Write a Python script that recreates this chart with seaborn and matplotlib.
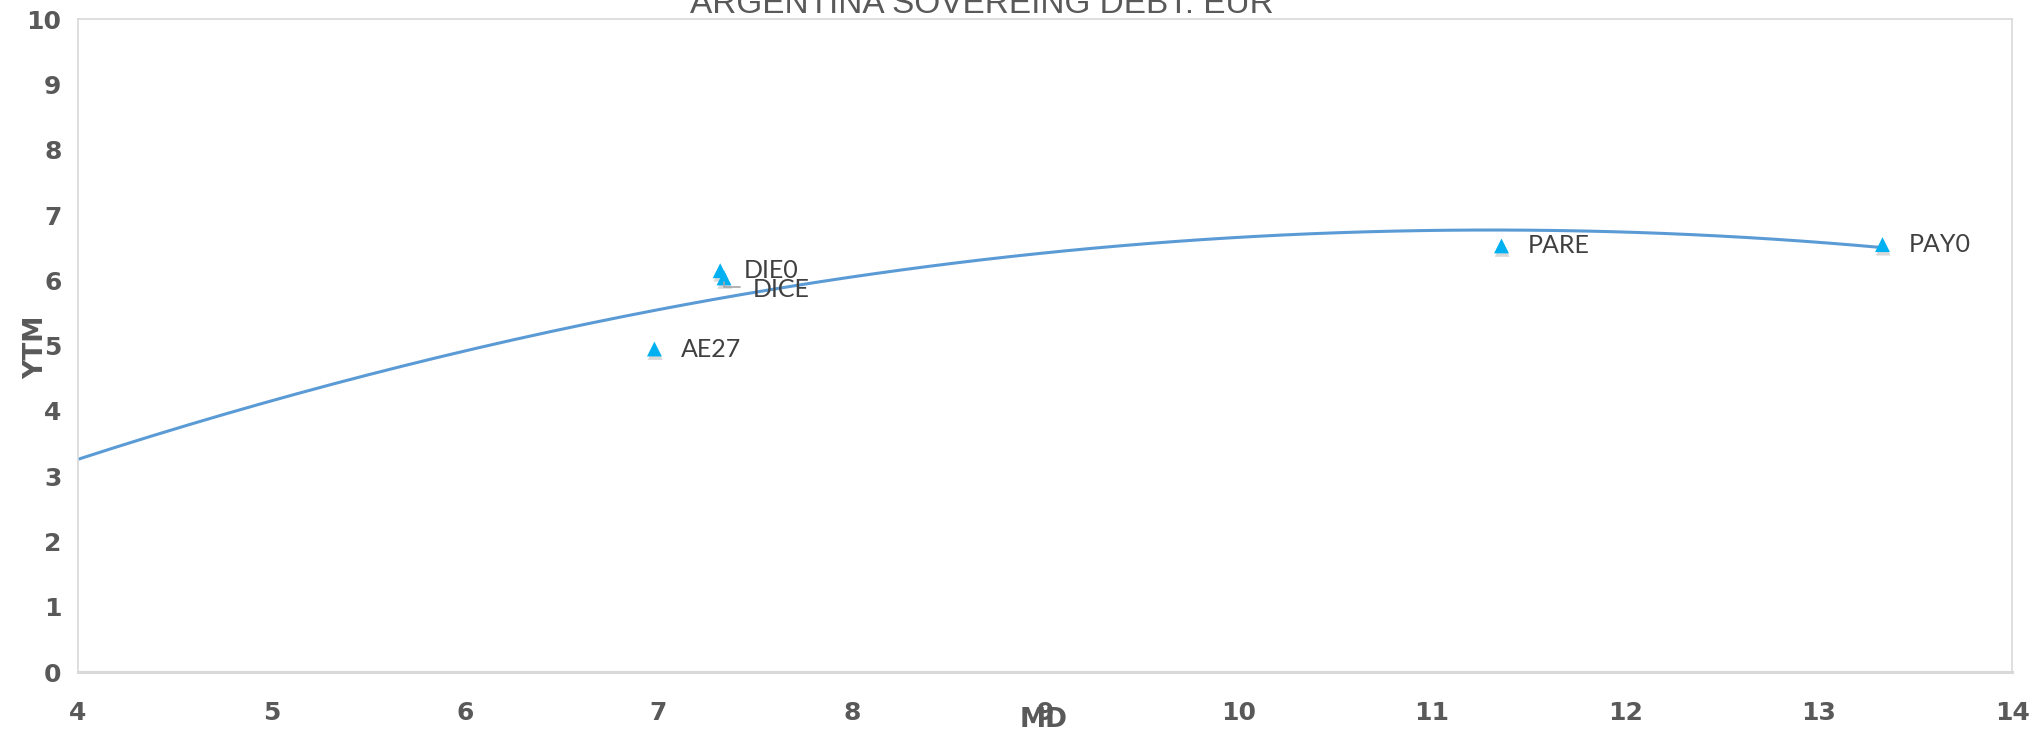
import matplotlib
matplotlib.use("Agg")
import matplotlib.pyplot as plt
import matplotlib.patheffects as pe
import seaborn as sns
import numpy as np
import pandas as pd

# bond data
bonds = ["AE27", "DIE0", "DICE", "PARE", "PAY0"]
md = [6.98, 7.32, 7.34, 11.36, 13.33]
ytm = [4.95, 6.15, 6.04, 6.53, 6.55]

# Excel poly(2) trendline as drawn on the chart (a, b, c), from x=4 to last bond
trend_coef = [-0.0658, 1.488, -1.639]
trend_start = 4

# label offsets in pixels (dx, dy)
label_offsets = {"AE27": (26, 0), "DIE0": (24, 0), "DICE": (29, -12),
                 "PARE": (26, 0), "PAY0": (26, 0)}

df = pd.DataFrame({"bond": bonds, "MD": md, "YTM": ytm})

sns.set_style("white")
plt.rcParams["font.family"] = ["Lato", "DejaVu Sans"]

PX = 0.72  # px -> pt at dpi 100

fig = plt.figure(figsize=(20.39, 7.35), dpi=100)
ax = fig.add_axes([0.0383, 0.0857, 0.9485, 0.8878])

xs = np.linspace(trend_start, df["MD"].max(), 200)
ax.plot(xs, np.polyval(trend_coef, xs), color="#5B9BD5", lw=2.2, zorder=2)

sns.scatterplot(data=df, x="MD", y="YTM", marker="^", s=115, color="#00B0F0",
                edgecolor="none", ax=ax, zorder=3,
                path_effects=[pe.SimplePatchShadow(offset=(0.5, -2.5), alpha=0.2,
                                                   shadow_rgbFace="#404040"),
                              pe.Normal()])

for b, x, y in zip(bonds, md, ytm):
    dx, dy = label_offsets[b]
    ax.annotate(b, (x, y), xytext=(dx * PX, dy * PX), textcoords="offset points",
                ha="left", va="center", fontsize=18, color="#404040", zorder=4)

# leader line for DICE
ax.annotate("", (7.34, 6.04), xytext=(16 * PX, -9 * PX), textcoords="offset points",
            arrowprops=dict(arrowstyle="-", color="#A6A6A6", lw=1.2,
                            shrinkA=0, shrinkB=3,
                            connectionstyle="angle,angleA=0,angleB=90,rad=0"))

ax.set_xlim(4, 14)
ax.set_ylim(0, 10)
ax.set_xticks(range(4, 15))
ax.set_yticks(range(0, 11))
ax.tick_params(axis="both", length=0, labelsize=18, labelcolor="#595959")
ax.tick_params(axis="x", pad=21)
ax.tick_params(axis="y", pad=12)
for lab in ax.get_xticklabels() + ax.get_yticklabels():
    lab.set_fontweight("bold")
    lab.set_fontfamily(["DejaVu Sans"])

for side in ["top", "right", "left"]:
    ax.spines[side].set_color("#D9D9D9")
    ax.spines[side].set_linewidth(1.2)
ax.spines["bottom"].set_color("#D9D9D9")
ax.spines["bottom"].set_linewidth(2.2)

ax.set_xlabel("")
ax.set_ylabel("")
fig.text(1044 / 2039, 1 - 720 / 735, "MD", ha="center", va="center",
         fontsize=19, fontweight="bold", color="#595959", family=["DejaVu Sans"])
fig.text(36 / 2039, 1 - 347 / 735, "YTM", ha="center", va="center", rotation=90,
         fontsize=19, fontweight="bold", color="#595959", family=["DejaVu Sans"])

fig.text(982 / 2039, 1 - 13 / 735, "ARGENTINA SOVEREING DEBT: EUR", ha="center",
         va="baseline", fontsize=24, color="#595959",
         family=["Liberation Sans", "DejaVu Sans"])

fig.savefig("out.png", dpi=100)
